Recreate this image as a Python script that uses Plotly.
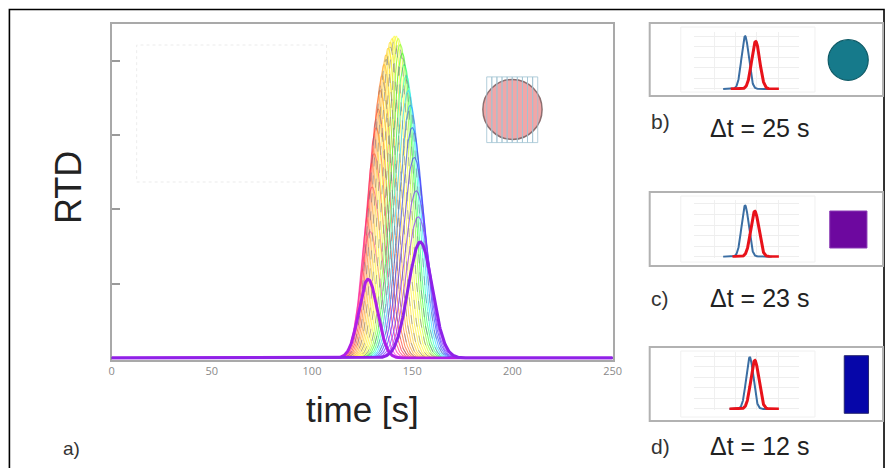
import numpy as np
import plotly.graph_objects as go
import colorsys

# ---------------- data ----------------
# panel a) : family of RTD curves (peak time [s], peak height [1/s], width [s], hue [deg])
fan_centers = [129, 130, 131, 132, 133, 134, 135, 136, 137, 138, 139, 140, 141, 142,
               143, 144, 145, 146, 147, 148, 149, 150, 151, 152, 153]
fan_heights = [0.0170, 0.0230, 0.0275, 0.0310, 0.0335, 0.0360, 0.0380, 0.0395, 0.0408, 0.0417,
               0.0425, 0.0430, 0.0433, 0.0433, 0.0430, 0.0422, 0.0410, 0.0395, 0.0380, 0.0360,
               0.0340, 0.0310, 0.0270, 0.0225, 0.0190]
fan_widths = [4.7, 4.75, 4.8, 4.85, 4.9, 4.95, 5.0, 5.05, 5.1, 5.15, 5.2, 5.25, 5.3, 5.35,
              5.4, 5.45, 5.5, 5.55, 5.6, 5.65, 5.7, 5.75, 5.8, 5.85, 5.9]
fan_hues = [310, 325, 340, 352, 5, 15, 25, 33, 40, 46, 51, 55, 58, 62,
            75, 95, 115, 140, 165, 190, 212, 232, 248, 260, 270]

dashed_idx = [4, 6, 8, 10, 12, 14, 16, 18, 20]

# the two highlighted (thick) RTD curves: left edge and right edge of the cross-section
edge_centers = [128.0, 154.0]
edge_heights = [0.0106, 0.0156]
edge_widths = [4.6, 6.0]
edge_colors = ["#b01fe6", "#8e22e8"]

x_ticks = [0, 50, 100, 150, 200, 250]
y_ticks = [0.01, 0.02, 0.03, 0.04]

# panels b), c), d): inlet (blue) vs outlet (red) RTD
mini_labels = ["b)", "c)", "d)"]
mini_dt = ["\u0394t = 25 s", "\u0394t = 23 s", "\u0394t = 12 s"]
blue_centers = [122, 122, 133]
red_centers = [147, 145, 145]
blue_heights = [1.00, 0.97, 0.98]
red_heights = [0.90, 0.86, 0.92]
blue_xrange = [(70, 185), (70, 185), (85, 190)]
red_xrange = [(88, 202), (92, 202), (85, 202)]

# ---------------- helpers ----------------
W, H = 894, 468


def PX(x):
    return x / W


def PY(y):
    return 1 - y / H


t = np.arange(0, 250.001, 0.25)


def rtd(c, h, s, tt):
    return h * np.exp(-0.5 * ((tt - c) / s) ** 2)


def hue_color(h, s=1.0, v=1.0):
    r, g, b = colorsys.hsv_to_rgb((h % 360) / 360.0, s, v)
    return "rgb(%d,%d,%d)" % (int(r * 255), int(g * 255), int(b * 255))


fig = go.Figure()

# ---- panel a) fan of curves ----
for i, (c, h, s, hu) in enumerate(zip(fan_centers, fan_heights, fan_widths, fan_hues)):
    fig.add_trace(go.Scatter(x=t, y=rtd(c, h, s, t), mode="lines",
                             line=dict(color=hue_color(hu, 0.8, 1.0), width=1.1),
                             opacity=0.7, hoverinfo="skip", showlegend=False,
                             xaxis="x", yaxis="y"))
for i in dashed_idx:
    c, h, s = fan_centers[i], fan_heights[i], fan_widths[i]
    fig.add_trace(go.Scatter(x=t, y=rtd(c, h * 0.985, s, t), mode="lines",
                             line=dict(color="rgba(110,110,150,0.5)", width=1, dash="dash"),
                             hoverinfo="skip", showlegend=False, xaxis="x", yaxis="y"))
for c, h, s, col in zip(edge_centers, edge_heights, edge_widths, edge_colors):
    fig.add_trace(go.Scatter(x=t, y=rtd(c, h, s, t), mode="lines",
                             line=dict(color=col, width=3),
                             hoverinfo="skip", showlegend=False, xaxis="x", yaxis="y"))

# ---- mini charts ----
mini_base = [89, 256.7, 409]
for k in range(3):
    xa = "x%d" % (k + 2)
    ya = "y%d" % (k + 2)
    tb = np.arange(blue_xrange[k][0], blue_xrange[k][1] + 0.01, 0.5)
    tr = np.arange(red_xrange[k][0], red_xrange[k][1] + 0.01, 0.5)
    fig.add_trace(go.Scatter(x=tb, y=rtd(blue_centers[k], blue_heights[k], 8.5, tb), mode="lines",
                             line=dict(color="#3b6ea3", width=2), hoverinfo="skip",
                             showlegend=False, xaxis=xa, yaxis=ya))
    fig.add_trace(go.Scatter(x=tr, y=rtd(red_centers[k], red_heights[k], 9.5, tr), mode="lines",
                             line=dict(color="#e8121a", width=3), hoverinfo="skip",
                             showlegend=False, xaxis=xa, yaxis=ya))

layout = dict(
    width=W, height=H, autosize=False, margin=dict(l=0, r=0, t=0, b=0),
    paper_bgcolor="white", plot_bgcolor="rgba(0,0,0,0)",
    font=dict(family="Liberation Sans, Arial, sans-serif"),
    xaxis=dict(domain=[PX(110), PX(618)], range=[0, 250], tickvals=x_ticks,
               ticktext=[str(v) for v in x_ticks], ticks="", showgrid=False, zeroline=False,
               showline=True, mirror=True, linecolor="#a9a9a9", linewidth=2,
               tickfont=dict(size=11, color="#8a8a8a", family="Open Sans, Liberation Sans"),
               layer="below traces", fixedrange=True),
    yaxis=dict(domain=[PY(359.5), PY(24)], range=[-0.0002, 0.04495], tickvals=y_ticks,
               showticklabels=False, ticks="inside", ticklen=8, tickcolor="#9a9a9a", tickwidth=1.5,
               showgrid=False, zeroline=False, showline=True, mirror=True,
               linecolor="#a9a9a9", linewidth=2, layer="below traces", fixedrange=True),
)
for k in range(3):
    base = mini_base[k]
    layout["xaxis%d" % (k + 2)] = dict(domain=[PX(700), PX(807)], range=[0, 250], anchor="y%d" % (k + 2),
                                       showticklabels=False, ticks="", showgrid=True, gridcolor="#f0f0f0",
                                       dtick=50, zeroline=False, showline=False, fixedrange=True)
    layout["yaxis%d" % (k + 2)] = dict(domain=[PY(base + 1), PY(base - 57)], range=[-0.02, 1.08],
                                       anchor="x%d" % (k + 2), showticklabels=False, ticks="",
                                       showgrid=True, gridcolor="#eeeeee", dtick=0.2, zeroline=False,
                                       showline=False, fixedrange=True)
fig.update_layout(**layout)

shapes = []
# outer black frame
shapes.append(dict(type="rect", xref="paper", yref="paper", x0=PX(6.5), x1=PX(893), y0=PY(470), y1=PY(9.5),
                   line=dict(color="black", width=1.6), fillcolor="rgba(0,0,0,0)", layer="below"))
# faint legend box in panel a
shapes.append(dict(type="rect", xref="paper", yref="paper", x0=PX(135.5), x1=PX(328), y0=PY(182), y1=PY(45),
                   line=dict(color="#ececec", width=1, dash="dot"), fillcolor="rgba(0,0,0,0)", layer="below"))
# cross-section circle with strips
cx, cy, r = 516.4, 109.4, 30.0
shapes.append(dict(type="circle", xref="paper", yref="paper", x0=PX(cx - r), x1=PX(cx + r),
                   y0=PY(cy + r), y1=PY(cy - r), line=dict(color="#8c6f70", width=1.5),
                   fillcolor="rgba(238,150,152,0.85)", layer="above"))
strip_l, strip_r = 490.3, 542.0
nst = 10
sw = (strip_r - strip_l) / nst
for i in range(nst):
    shapes.append(dict(type="rect", xref="paper", yref="paper", x0=PX(strip_l + i * sw), x1=PX(strip_l + (i + 1) * sw),
                       y0=PY(142.6), y1=PY(76.9), line=dict(color="rgba(160,195,210,0.8)", width=1),
                       fillcolor="rgba(0,0,0,0)", layer="above"))

# right panels boxes
boxes = [(23, 96), (192, 266), (347, 421)]
for (y0, y1) in boxes:
    shapes.append(dict(type="rect", xref="paper", yref="paper", x0=PX(655.5), x1=PX(892), y0=PY(y1), y1=PY(y0),
                       line=dict(color="#b2b2b2", width=2), fillcolor="rgba(0,0,0,0)", layer="below"))
    shapes.append(dict(type="rect", xref="paper", yref="paper", x0=PX(687), x1=PX(823), y0=PY(y1 - 4), y1=PY(y0 + 4),
                       line=dict(color="#f0f0f0", width=1), fillcolor="rgba(0,0,0,0)", layer="below"))
# symbols of the cross-sections
shapes.append(dict(type="circle", xref="paper", yref="paper", x0=PX(836.4), x1=PX(877), y0=PY(80.3), y1=PY(39.7),
                   line=dict(color="#0f5a66", width=1.2), fillcolor="#167a8b", layer="above"))
shapes.append(dict(type="rect", xref="paper", yref="paper", x0=PX(838), x1=PX(875.7), y0=PY(248), y1=PY(211),
                   line=dict(color="#8a3ab5", width=1), fillcolor="#6d089f", layer="above"))
shapes.append(dict(type="rect", xref="paper", yref="paper", x0=PX(852.7), x1=PX(877.3), y0=PY(413.3), y1=PY(355.7),
                   line=dict(color="#26266e", width=1), fillcolor="#0606a9", layer="above"))

annotations = []
annotations.append(dict(text="RTD", xref="paper", yref="paper", x=PX(66), y=PY(188), showarrow=False,
                        textangle=-90, font=dict(size=36, color="#222"), xanchor="center", yanchor="middle"))
annotations.append(dict(text="time [s]", xref="paper", yref="paper", x=PX(364), y=PY(409), showarrow=False,
                        font=dict(size=35, color="#222"), xanchor="center", yanchor="middle"))
annotations.append(dict(text="a)", xref="paper", yref="paper", x=PX(69.5), y=PY(448), showarrow=False,
                        font=dict(size=19, color="#333"), xanchor="center", yanchor="middle"))
lab_y = [122, 298, 446]
dt_y = [128, 298, 446]
for k in range(3):
    annotations.append(dict(text=mini_labels[k], xref="paper", yref="paper", x=PX(666), y=PY(lab_y[k]),
                            showarrow=False, font=dict(size=21, color="#333"), xanchor="center", yanchor="middle"))
    annotations.append(dict(text=mini_dt[k], xref="paper", yref="paper", x=PX(767), y=PY(dt_y[k]),
                            showarrow=False, font=dict(size=25, color="#222"), xanchor="center", yanchor="middle"))

fig.update_layout(shapes=shapes, annotations=annotations)
fig.write_html("out.html",
               config={"displayModeBar": False, "responsive": False},
               post_script="document.body.style.margin='0';document.body.style.padding='0';"
                           "document.body.style.overflow='hidden';"
                           "Plotly.relayout('{plot_id}', {width: 894, height: 468});")
